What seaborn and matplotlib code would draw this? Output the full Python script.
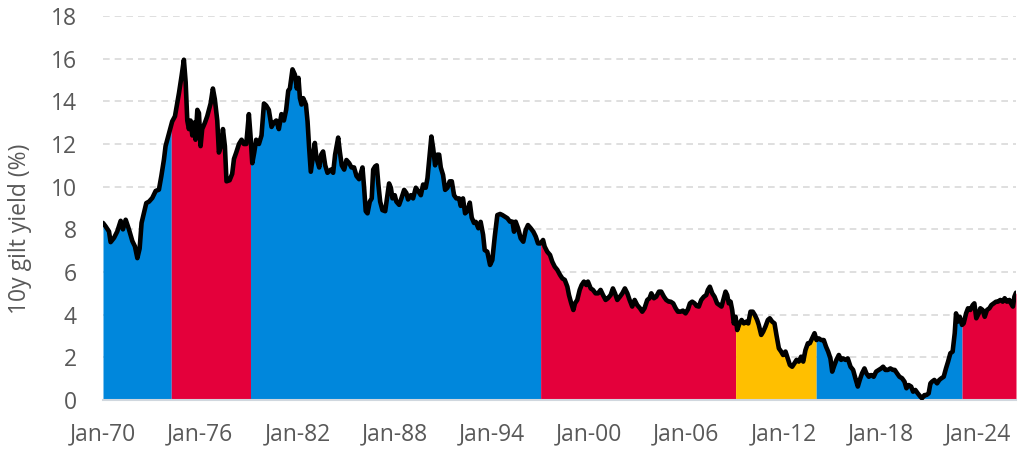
import numpy as np
import pandas as pd
import seaborn as sns
import matplotlib.pyplot as plt

# 10y gilt yield (decimal year on the chart's own time axis)
years = [
    1970.00, 1970.16, 1970.37, 1970.47, 1970.68, 1970.88, 1971.09, 1971.23, 1971.40, 1971.60,
    1971.81, 1971.97, 1972.12, 1972.26, 1972.38, 1972.53, 1972.67, 1972.84, 1973.04, 1973.25,
    1973.45, 1973.60, 1973.76, 1973.86, 1974.07, 1974.27, 1974.44, 1974.58, 1974.69, 1974.85,
    1974.99, 1975.10, 1975.20, 1975.30, 1975.40, 1975.51, 1975.61, 1975.71, 1975.82, 1975.92,
    1976.02, 1976.12, 1976.29, 1976.43, 1976.64, 1976.78, 1976.90, 1977.05, 1977.15, 1977.32,
    1977.40, 1977.52, 1977.62, 1977.81, 1977.97, 1978.08, 1978.22, 1978.39, 1978.55, 1978.69,
    1978.84, 1979.00, 1979.10, 1979.21, 1979.33, 1979.45, 1979.62, 1979.78, 1979.93, 1980.07,
    1980.23, 1980.40, 1980.54, 1980.69, 1980.85, 1981.01, 1981.16, 1981.30, 1981.43,
    1981.53, 1981.69, 1981.84, 1981.96, 1982.06, 1982.15, 1982.25, 1982.35, 1982.52, 1982.62,
    1982.72, 1982.82, 1982.97, 1983.07, 1983.17, 1983.34, 1983.46, 1983.58, 1983.71, 1983.85,
    1984.06, 1984.20, 1984.32, 1984.51, 1984.61, 1984.73, 1984.88, 1985.02, 1985.19, 1985.33,
    1985.49, 1985.64, 1985.80, 1986.01, 1986.11, 1986.21, 1986.32, 1986.46, 1986.58, 1986.67,
    1986.79, 1986.89, 1986.99, 1987.10, 1987.24, 1987.41, 1987.55, 1987.65, 1987.76, 1987.86,
    1988.00, 1988.10, 1988.27, 1988.41, 1988.58, 1988.72, 1988.82, 1988.99, 1989.13, 1989.30,
    1989.44, 1989.61, 1989.75, 1989.91, 1990.02, 1990.12, 1990.26, 1990.37, 1990.49, 1990.63,
    1990.74, 1990.84, 1990.98, 1991.11, 1991.25, 1991.39, 1991.52, 1991.66, 1991.80, 1991.97,
    1992.07, 1992.21, 1992.34, 1992.48, 1992.63, 1992.75, 1992.89, 1993.00, 1993.16, 1993.30,
    1993.45,
    1993.55, 1993.71, 1993.88, 1994.02, 1994.17, 1994.33, 1994.50, 1994.64, 1994.78, 1994.95,
    1995.11, 1995.26, 1995.36, 1995.46, 1995.61, 1995.77, 1995.93, 1996.08, 1996.22, 1996.39,
    1996.55, 1996.70, 1996.84, 1997.00, 1997.15, 1997.25, 1997.41, 1997.58, 1997.72, 1997.87,
    1998.03, 1998.20, 1998.34, 1998.49, 1998.65, 1998.75, 1998.89, 1999.02, 1999.12, 1999.26,
    1999.41, 1999.53, 1999.67, 1999.82, 1999.92, 2000.09, 2000.23, 2000.39, 2000.54, 2000.70,
    2000.85, 2001.01, 2001.15, 2001.32, 2001.46, 2001.59, 2001.73, 2001.89, 2002.04, 2002.20,
    2002.35, 2002.49, 2002.65, 2002.80, 2002.96, 2003.13, 2003.27, 2003.41, 2003.58, 2003.72,
    2003.83, 2003.99, 2004.13, 2004.30, 2004.44, 2004.61, 2004.75, 2004.91,
    2005.02, 2005.18, 2005.33, 2005.47, 2005.63, 2005.78, 2005.94, 2006.09, 2006.21, 2006.35,
    2006.50, 2006.62, 2006.76, 2006.91, 2007.07, 2007.22, 2007.32, 2007.44, 2007.59, 2007.73,
    2007.89, 2008.04, 2008.16, 2008.27, 2008.41, 2008.51, 2008.61, 2008.72, 2008.82, 2008.92,
    2009.03, 2009.13, 2009.27, 2009.40, 2009.54, 2009.68, 2009.81, 2009.95, 2010.09, 2010.22,
    2010.36, 2010.46, 2010.61, 2010.73, 2010.87, 2011.02, 2011.14, 2011.29, 2011.43, 2011.55,
    2011.70, 2011.84, 2011.96, 2012.11, 2012.25, 2012.38, 2012.52, 2012.66, 2012.79, 2012.93,
    2013.07, 2013.20, 2013.34, 2013.49, 2013.61, 2013.75, 2013.90, 2014.02, 2014.16, 2014.31,
    2014.47, 2014.61, 2014.74, 2014.88, 2014.99, 2015.13, 2015.25, 2015.40, 2015.54,
    2015.66, 2015.81, 2015.95, 2016.12, 2016.28, 2016.42, 2016.57, 2016.69, 2016.83, 2016.98,
    2017.10, 2017.25, 2017.39, 2017.55, 2017.70, 2017.86, 2018.01, 2018.13, 2018.27, 2018.42,
    2018.58, 2018.73, 2018.85, 2018.99, 2019.14, 2019.30, 2019.45, 2019.57, 2019.71, 2019.86,
    2019.98, 2020.12, 2020.27, 2020.43, 2020.53, 2020.68, 2020.80, 2020.94, 2021.05, 2021.15,
    2021.29, 2021.46, 2021.60, 2021.73, 2021.87, 2022.01, 2022.14, 2022.28, 2022.42, 2022.55,
    2022.63, 2022.73, 2022.86, 2023.00, 2023.10, 2023.25, 2023.37, 2023.51, 2023.66, 2023.76,
    2023.88, 2024.03, 2024.13, 2024.27, 2024.40, 2024.54, 2024.69, 2024.81, 2024.95, 2025.10,
    2025.22, 2025.36, 2025.51, 2025.63, 2025.77, 2025.92, 2026.02, 2026.14, 2026.23, 2026.33,
]
gilt_yield = [
    8.3, 8.14, 7.9, 7.4, 7.6, 7.9, 8.4, 8.0, 8.45, 8.0,
    7.45, 7.2, 6.65, 7.1, 8.3, 8.77, 9.23, 9.3, 9.47, 9.8,
    9.86, 10.5, 11.27, 11.9, 12.5, 13.06, 13.3, 13.9, 14.4, 15.2,
    15.95, 14.9, 13.1, 12.7, 13.1, 12.4, 13.0, 12.2, 13.6, 13.45,
    11.9, 12.7, 13.0, 13.3, 13.9, 14.6, 14.1, 13.1, 11.6, 12.0,
    12.7, 11.9, 10.25, 10.3, 10.6, 11.3, 11.6, 12.0, 12.2, 12.0,
    12.0, 13.4, 12.4, 11.1, 11.6, 12.2, 12.0, 12.4, 13.9, 13.8,
    13.6, 12.8, 13.0, 13.1, 12.7, 13.4, 13.1, 13.6, 14.5,
    14.6, 15.5, 15.25, 14.6, 15.1, 14.15, 13.85, 14.15, 13.85, 13.06,
    11.8, 10.7, 11.5, 12.05, 11.35, 10.9, 11.5, 11.65, 11.0, 10.65,
    10.8, 10.65, 11.5, 12.3, 11.65, 11.0, 10.8, 11.25, 11.1, 10.9,
    10.9, 10.5, 10.35, 10.9, 9.95, 8.85, 8.75, 9.3, 9.45, 10.8,
    10.95, 11.0, 10.1, 9.3, 8.9, 8.85, 9.6, 10.15, 9.95, 9.45,
    9.6, 9.3, 9.15, 9.45, 9.85, 9.7, 9.4, 9.6, 9.45, 9.95,
    9.8, 9.6, 10.1, 9.95, 10.4, 11.2, 12.35, 11.8, 11.0, 11.5,
    11.5, 10.9, 10.55, 9.85, 9.95, 10.25, 10.25, 9.6, 9.45, 9.45,
    9.1, 9.45, 8.75, 8.85, 9.25, 8.55, 8.3, 8.35, 8.05, 8.35,
    7.75,
    7.03, 6.95, 6.33, 6.56, 7.66, 8.67, 8.72, 8.67, 8.6, 8.52,
    8.36, 8.36, 7.89, 8.36, 8.05, 7.58, 7.42, 7.97, 8.2, 8.05,
    7.89, 7.66, 7.34, 7.34, 7.5, 7.19, 6.95, 6.8, 6.48, 6.25,
    6.1, 5.86, 5.7, 5.63, 5.31, 4.92, 4.53, 4.22, 4.53, 4.69,
    5.16, 5.39, 5.55, 5.39, 5.55, 5.23, 5.16, 5.0, 5.0, 5.16,
    4.92, 4.69, 4.77, 4.92, 5.23, 5.0, 4.69, 4.84, 5.0, 5.23,
    5.0, 4.69, 4.38, 4.69, 4.45, 4.3, 4.14, 4.3, 4.69, 4.77,
    5.0, 4.77, 4.84, 5.08, 5.08, 4.84, 4.69, 4.61,
    4.61, 4.53, 4.3, 4.14, 4.14, 4.19, 4.06, 4.25, 4.53, 4.61,
    4.53, 4.41, 4.38, 4.69, 4.84, 4.92, 5.16, 5.31, 5.0, 4.84,
    4.53, 4.45, 4.38, 4.69, 5.08, 4.92, 4.53, 4.61, 4.22, 3.59,
    3.9, 3.28, 3.59, 3.75, 3.59, 3.67, 3.59, 4.14, 4.14, 3.98,
    3.75, 3.52, 3.05, 3.2, 3.44, 3.75, 3.83, 3.67, 3.59, 3.05,
    2.42, 2.27, 2.11, 2.27, 1.95, 1.64, 1.56, 1.72, 1.88, 1.8,
    2.03, 1.8, 2.34, 2.66, 2.66, 2.89, 3.13, 2.81, 2.89, 2.81,
    2.81, 2.5, 2.27, 1.95, 1.33, 1.64, 1.88, 2.11, 1.88,
    1.95, 1.88, 1.95, 1.56, 1.41, 1.02, 0.63, 0.94, 1.25, 1.48,
    1.25, 1.09, 1.17, 1.09, 1.33, 1.41, 1.48, 1.56, 1.41, 1.41,
    1.48, 1.41, 1.41, 1.25, 1.09, 1.02, 0.86, 0.55, 0.70, 0.63,
    0.39, 0.47, 0.31, 0.16, 0.08, 0.23, 0.23, 0.31, 0.78, 0.86,
    0.94, 0.78, 0.94, 1.02, 1.09, 1.48, 1.8, 2.19, 2.27, 3.13,
    4.06, 3.67, 3.9, 3.52, 3.59, 4.06, 4.3, 4.22, 4.45, 4.53,
    3.83, 4.06, 4.3, 4.22, 3.9, 4.22, 4.3, 4.45, 4.53, 4.61,
    4.61, 4.69, 4.61, 4.77, 4.61, 4.69, 4.53, 4.38, 4.84, 5.03,
]

# government in office, as placed on the chart
period_bounds = [1970.0, 1974.21, 1979.10, 1997.0, 2009.03, 2014.0, 2023.0, 2026.33]
period_party = ['Conservative', 'Labour', 'Conservative', 'Labour',
                'Coalition', 'Conservative', 'Labour']
party_colours = {'Conservative': '#0087DC', 'Labour': '#E4003B', 'Coalition': '#FFBF00'}

tick_years = list(range(1970, 2025, 6))
tick_labels = ['Jan-' + str(y)[2:] for y in tick_years]

df = pd.DataFrame({'year': years, 'yield': gilt_yield})

sns.set_style('white')
plt.rcParams['font.family'] = ['Open Sans', 'DejaVu Sans']
grey = '#595959'

fig = plt.figure(figsize=(10.24, 4.55), dpi=100)
ax = fig.add_axes([103 / 1024, 55 / 455, 913 / 1024, 384 / 455])

# coloured areas under the curve, one per government
for start, end, party in zip(period_bounds[:-1], period_bounds[1:], period_party):
    seg = df[(df['year'] > start) & (df['year'] < end)]
    xs = np.r_[start, seg['year'], end]
    ys = np.r_[np.interp(start, df['year'], df['yield']), seg['yield'],
               np.interp(end, df['year'], df['yield'])]
    ax.fill_between(xs, 0, ys, color=party_colours[party], lw=0, zorder=2)

sns.lineplot(data=df, x='year', y='yield', color='black', lw=3.3, ax=ax,
             sort=False, estimator=None, zorder=3)

ax.set_xlim(period_bounds[0], period_bounds[-1])
ax.set_ylim(0, 18)
ax.set_yticks(range(0, 19, 2))
ax.set_xticks(tick_years)
ax.set_xticklabels(tick_labels)
ax.set_xlabel('')
ax.set_ylabel('10y gilt yield (%)', fontsize=16.5, color=grey)
ax.yaxis.set_label_coords(-0.078, 0.445)

ax.set_axisbelow(True)
ax.yaxis.grid(True, color='#d9d9d9', lw=1.2, ls=(0, (4, 3)))
ax.xaxis.grid(False)
sns.despine(ax=ax, left=True)
ax.spines['bottom'].set_color('#d0d7de')
ax.spines['bottom'].set_linewidth(1.5)
ax.tick_params(axis='both', length=0, labelsize=16.5, labelcolor=grey)
ax.tick_params(axis='y', pad=19)
ax.tick_params(axis='x', pad=16)

plt.savefig('out.png', dpi=100)
